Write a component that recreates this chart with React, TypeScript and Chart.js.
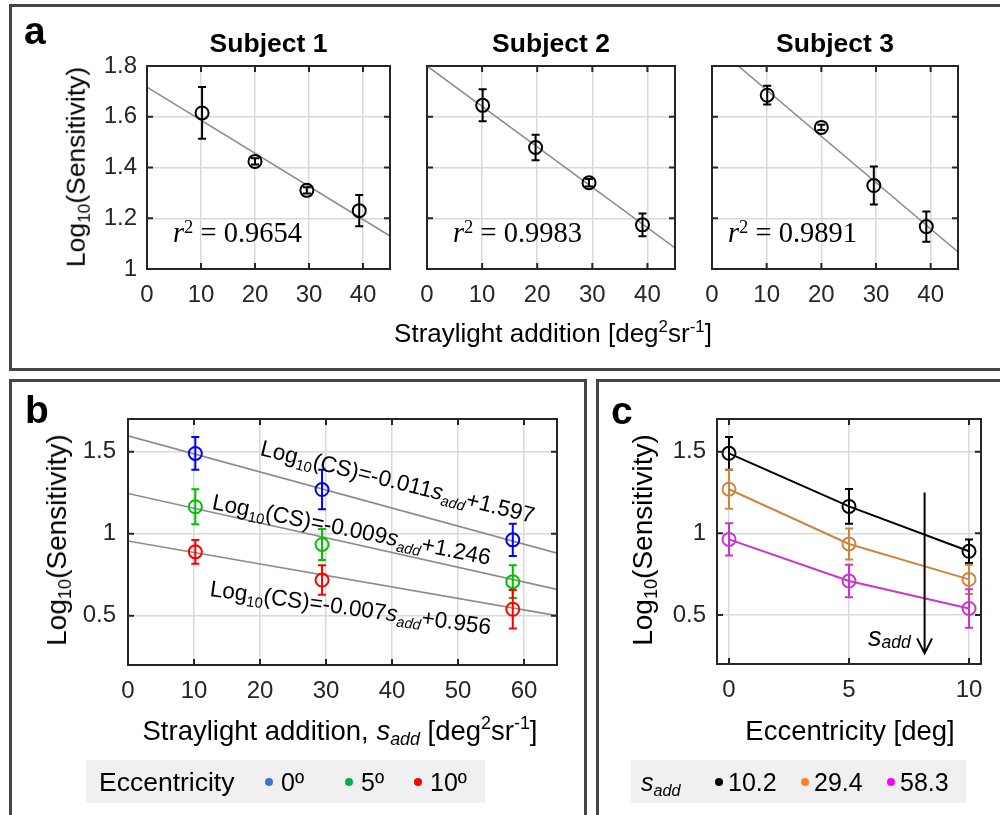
import React, { useEffect, useRef } from 'react';
import { Chart, registerables } from 'chart.js';
Chart.register(...registerables);

const SANS = "'Liberation Sans', Arial, Helvetica, sans-serif";
const SERIF = "'Liberation Serif', 'Times New Roman', serif";
const TICK_COLOR = '#262626';
const GRID_COLOR = '#d9d9d9';
const FIT_COLOR = '#8c8c8c';
const W = 1000;
const H = 815;

// ---------------- Panel a data ----------------
const aXTicks = [0, 10, 20, 30, 40];
const aXTickLabels = ['0', '10', '20', '30', '40'];
const aYTicks = [1, 1.2, 1.4, 1.6, 1.8];
const aYTickLabels = ['1', '1.2', '1.4', '1.6', '1.8'];
const subjectTitles = ['Subject 1', 'Subject 2', 'Subject 3'];

const s1Straylight = [10.2, 20.0, 29.6, 39.3];
const s1LogCS = [1.615, 1.424, 1.31, 1.23];
const s1Err = [0.102, 0.012, 0.012, 0.062];
const s1FitX = [0, 45];
const s1FitY = [1.717, 1.13];

const s2Straylight = [10.1, 19.7, 29.4, 39.1];
const s2LogCS = [1.645, 1.479, 1.34, 1.174];
const s2Err = [0.063, 0.05, 0.015, 0.045];
const s2FitX = [0, 45];
const s2FitY = [1.8, 1.083];

const s3Straylight = [10.1, 20.0, 29.6, 39.2];
const s3LogCS = [1.685, 1.558, 1.329, 1.167];
const s3Err = [0.037, 0.01, 0.075, 0.06];
const s3FitX = [4.8, 45];
const s3FitY = [1.8, 1.067];

const r2Values = ['0.9654', '0.9983', '0.9891'];

// ---------------- Panel b / c data ----------------
const sAdd = [10.2, 29.4, 58.3];
const sAddLabels = ['10.2', '29.4', '58.3'];
const eccentricity = [0, 5, 10];
const eccLabels = ['0º', '5º', '10º'];

const ecc0LogCS = [1.49, 1.27, 0.963];
const ecc0Err = [0.1, 0.12, 0.098];
const ecc5LogCS = [1.165, 0.935, 0.708];
const ecc5Err = [0.107, 0.095, 0.1];
const ecc10LogCS = [0.89, 0.718, 0.54];
const ecc10Err = [0.072, 0.09, 0.118];

const fitSlopes = [-0.011, -0.009, -0.007];
const fitIntercepts = [1.597, 1.246, 0.956];
const bFitX = [0, 65];

const bXTicks = [0, 10, 20, 30, 40, 50, 60];
const bXTickLabels = ['0', '10', '20', '30', '40', '50', '60'];
const bcYTicks = [0.5, 1, 1.5];
const bcYTickLabels = ['0.5', '1', '1.5'];
const cXTicks = [0, 5, 10];
const cXTickLabels = ['0', '5', '10'];

const eccColors = ['#0000ff', '#00c000', '#ff0000'];
const eccLegendColors = ['#4472c4', '#00b050', '#ff0000'];
const sAddColors = ['#000000', '#cd853f', '#cc33cc'];
const sAddLegendColors = ['#000000', '#ff7f27', '#ff00ff'];

// ---------------- chart helpers ----------------
const YW = 80;
const XH = 50;

const panelPlugin = {
  id: 'panelPlugin',
  afterDatasetsDraw(chart: any) {
    const ctx = chart.ctx;
    const ys = chart.scales.y;
    chart.data.datasets.forEach((ds: any, i: number) => {
      if (!ds.errorBars) return;
      const meta = chart.getDatasetMeta(i);
      ctx.save();
      ctx.strokeStyle = ds.pointBorderColor;
      ctx.lineWidth = 2;
      meta.data.forEach((pt: any, j: number) => {
        const v = ds.data[j].y;
        const e = ds.errorBars[j];
        const yt = ys.getPixelForValue(v + e);
        const yb = ys.getPixelForValue(v - e);
        const x = pt.x;
        const cw = 4;
        ctx.beginPath();
        ctx.moveTo(x, yt);
        ctx.lineTo(x, yb);
        ctx.moveTo(x - cw, yt);
        ctx.lineTo(x + cw, yt);
        ctx.moveTo(x - cw, yb);
        ctx.lineTo(x + cw, yb);
        ctx.stroke();
      });
      ctx.restore();
    });
  },
  afterDraw(chart: any) {
    const ctx = chart.ctx;
    const { left, top, right, bottom } = chart.chartArea;
    const xs = chart.scales.x;
    const ys = chart.scales.y;
    ctx.save();
    ctx.strokeStyle = '#262626';
    ctx.lineWidth = 2;
    const L = 6;
    ctx.beginPath();
    xs.ticks.forEach((t: any) => {
      const px = xs.getPixelForValue(t.value);
      if (px <= left + 1 || px >= right - 1) return;
      ctx.moveTo(px, bottom);
      ctx.lineTo(px, bottom - L);
      ctx.moveTo(px, top);
      ctx.lineTo(px, top + L);
    });
    ys.ticks.forEach((t: any) => {
      const py = ys.getPixelForValue(t.value);
      if (py <= top + 1 || py >= bottom - 1) return;
      ctx.moveTo(left, py);
      ctx.lineTo(left + L, py);
      ctx.moveTo(right, py);
      ctx.lineTo(right - L, py);
    });
    ctx.stroke();
    ctx.strokeRect(left, top, right - left, bottom - top);
    const arrow = chart.options.plugins.panelPlugin && chart.options.plugins.panelPlugin.arrow;
    if (arrow) {
      const ax = xs.getPixelForValue(arrow.x);
      const ay0 = ys.getPixelForValue(arrow.y0);
      const ay1 = ys.getPixelForValue(arrow.y1);
      ctx.strokeStyle = '#000';
      ctx.lineWidth = 2;
      ctx.beginPath();
      ctx.moveTo(ax, ay0);
      ctx.lineTo(ax, ay1);
      ctx.moveTo(ax - 7.5, ay1 - 15);
      ctx.lineTo(ax, ay1);
      ctx.lineTo(ax + 7.5, ay1 - 15);
      ctx.stroke();
    }
    ctx.restore();
  },
};

type Spec = {
  rect: { l: number; t: number; r: number; b: number };
  xMin: number; xMax: number; xTicks: number[]; xLabels: string[];
  yMin: number; yMax: number; yTicks: number[]; yLabels: string[];
  xPad: number; yPad: number;
  datasets: any[];
  arrow?: { x: number; y0: number; y1: number };
};

function makeConfig(s: Spec): any {
  const tickFont = { family: SANS, size: 24 };
  return {
    type: 'scatter',
    data: { datasets: s.datasets },
    options: {
      responsive: false,
      animation: false,
      events: [],
      layout: {
        padding: {
          left: s.rect.l - YW,
          top: s.rect.t,
          right: W - s.rect.r,
          bottom: H - s.rect.b - XH,
        },
      },
      plugins: {
        legend: { display: false },
        tooltip: { enabled: false },
        panelPlugin: { arrow: s.arrow },
      },
      scales: {
        x: {
          type: 'linear',
          min: s.xMin,
          max: s.xMax,
          afterFit: (sc: any) => { sc.height = XH; },
          afterBuildTicks: (sc: any) => { sc.ticks = s.xTicks.map((v) => ({ value: v })); },
          ticks: {
            callback: (_v: any, i: number) => s.xLabels[i],
            font: tickFont,
            color: TICK_COLOR,
            padding: s.xPad,
            maxRotation: 0,
            autoSkip: false,
          },
          grid: { color: GRID_COLOR, lineWidth: 1.5, drawTicks: false },
          border: { display: false },
        },
        y: {
          type: 'linear',
          min: s.yMin,
          max: s.yMax,
          afterFit: (sc: any) => { sc.width = YW; },
          afterBuildTicks: (sc: any) => { sc.ticks = s.yTicks.map((v) => ({ value: v })); },
          ticks: {
            callback: (_v: any, i: number) => s.yLabels[i],
            font: tickFont,
            color: TICK_COLOR,
            padding: s.yPad,
            autoSkip: false,
          },
          grid: { color: GRID_COLOR, lineWidth: 1.5, drawTicks: false },
          border: { display: false },
        },
      },
    },
    plugins: [panelPlugin],
  };
}

function pointSet(xs: number[], ys: number[], errs: number[], color: string, line = false) {
  return {
    data: xs.map((x, i) => ({ x, y: ys[i] })),
    showLine: line,
    borderColor: color,
    borderWidth: 2,
    pointBorderColor: color,
    pointBackgroundColor: 'rgba(0,0,0,0)',
    pointRadius: 6.5,
    pointBorderWidth: 2,
    errorBars: errs,
  };
}

function fitSet(xs: number[], ys: number[]) {
  return {
    data: xs.map((x, i) => ({ x, y: ys[i] })),
    showLine: true,
    borderColor: FIT_COLOR,
    borderWidth: 1.6,
    pointRadius: 0,
  };
}

const ChartCanvas = ({ spec }: { spec: Spec }) => {
  const ref = useRef<HTMLCanvasElement | null>(null);
  useEffect(() => {
    if (!ref.current) return;
    const chart = new Chart(ref.current, makeConfig(spec));
    return () => chart.destroy();
  }, []);
  return (
    <canvas
      ref={ref}
      width={W}
      height={H}
      style={{ position: 'absolute', left: 0, top: 0, width: W, height: H }}
    />
  );
};

// ---------------- text helpers ----------------
const Sub = ({ children, shift = 0.3 }: any) => (
  <span style={{ fontSize: '0.65em', position: 'relative', top: `${shift}em`, lineHeight: 0 }}>{children}</span>
);
const Sup = ({ children, shift = -0.6 }: any) => (
  <span style={{ fontSize: '0.65em', position: 'relative', top: `${shift}em`, lineHeight: 0 }}>{children}</span>
);

function Txt({ x, y, size, anchor = 'center', valign = 'cap', rot = 0, family = SANS, bold = false, italic = false, color = '#000', children }: any) {
  const tx = anchor === 'center' ? '-50%' : anchor === 'right' ? '-100%' : '0';
  const ty = valign === 'cap' ? '-0.4885em' : '-0.8465em';
  let transform = `translate(${tx}, ${ty})`;
  let origin = '50% 50%';
  if (rot === -90) {
    transform = 'translate(-50%, -50%) rotate(-90deg)';
  } else if (rot) {
    transform = `rotate(${rot}deg) translate(${tx}, ${ty})`;
    origin = '0 0';
  }
  return (
    <div
      style={{
        position: 'absolute',
        left: x,
        top: y,
        whiteSpace: 'nowrap',
        fontFamily: family,
        fontSize: size,
        fontWeight: bold ? 'bold' : 'normal',
        fontStyle: italic ? 'italic' : 'normal',
        color,
        lineHeight: 1,
        transform,
        transformOrigin: origin,
      }}
    >
      {children}
    </div>
  );
}

const LogSens = () => (
  <span>
    Log<Sub>10</Sub>(Sensitivity)
  </span>
);

const SAdd = ({ shift = 0.3 }: any) => (
  <span>
    <i>s</i>
    <Sub shift={shift}><i>add</i></Sub>
  </span>
);

const Dot = ({ x, y, color }: any) => (
  <div
    style={{
      position: 'absolute',
      left: x - 4,
      top: y - 4,
      width: 8,
      height: 8,
      borderRadius: '50%',
      background: color,
    }}
  />
);

const Frame = ({ l, t, w, h }: any) => (
  <div
    style={{
      position: 'absolute',
      left: l,
      top: t,
      width: w,
      height: h,
      border: '3px solid #454545',
      boxSizing: 'border-box',
    }}
  />
);

// ---------------- specs ----------------
const aRects = [
  { l: 147, t: 66, r: 390, b: 269 },
  { l: 427, t: 66, r: 675, b: 269 },
  { l: 712, t: 66, r: 958, b: 269 },
];

const aData = [
  { xs: s1Straylight, ys: s1LogCS, es: s1Err, fx: s1FitX, fy: s1FitY },
  { xs: s2Straylight, ys: s2LogCS, es: s2Err, fx: s2FitX, fy: s2FitY },
  { xs: s3Straylight, ys: s3LogCS, es: s3Err, fx: s3FitX, fy: s3FitY },
];

const aSpecs: Spec[] = aData.map((d, i) => ({
  rect: aRects[i],
  xMin: 0, xMax: 45, xTicks: aXTicks, xLabels: aXTickLabels,
  yMin: 1, yMax: 1.8, yTicks: aYTicks, yLabels: i === 0 ? aYTickLabels : aYTicks.map(() => ''),
  xPad: 12, yPad: 10,
  datasets: [pointSet(d.xs, d.ys, d.es, '#000000'), fitSet(d.fx, d.fy)],
}));

const eccSeries = [ecc0LogCS, ecc5LogCS, ecc10LogCS];
const eccErrs = [ecc0Err, ecc5Err, ecc10Err];

const bSpec: Spec = {
  rect: { l: 128, t: 419, r: 557, b: 665 },
  xMin: 0, xMax: 65, xTicks: bXTicks, xLabels: bXTickLabels,
  yMin: 0.2, yMax: 1.7, yTicks: bcYTicks, yLabels: bcYTickLabels,
  xPad: 12, yPad: 12,
  datasets: [
    ...eccSeries.map((ys, i) => pointSet(sAdd, ys, eccErrs[i], eccColors[i])),
    ...fitSlopes.map((m, i) => fitSet(bFitX, bFitX.map((x) => m * x + fitIntercepts[i]))),
  ],
};

const cSpec: Spec = {
  rect: { l: 717, t: 419, r: 981, b: 664 },
  xMin: -0.5, xMax: 10.5, xTicks: cXTicks, xLabels: cXTickLabels,
  yMin: 0.2, yMax: 1.7, yTicks: bcYTicks, yLabels: bcYTickLabels,
  xPad: 12, yPad: 11,
  datasets: sAdd.map((_s, k) =>
    pointSet(
      eccentricity,
      eccSeries.map((ser) => ser[k]),
      eccErrs.map((er) => er[k]),
      sAddColors[k],
      true
    )
  ),
  arrow: { x: 8.15, y0: 1.25, y1: 0.265 },
};

// equation label placement (left-baseline point and angle)
const eqPlacement = [
  { x: 259, y: 456, rot: 14 },
  { x: 211, y: 510, rot: 11.4 },
  { x: 209, y: 597, rot: 7.8 },
];

export default function App() {
  const aTitleX = aRects.map((r) => (r.l + r.r) / 2);
  const r2X = [173, 453, 728];
  return (
    <div
      style={{
        position: 'absolute',
        left: 0,
        top: 0,
        width: W,
        height: H,
        background: '#ffffff',
        overflow: 'hidden',
        fontFamily: SANS,
      }}
    >
      {/* panel frames */}
      <Frame l={9} t={4} w={1010} h={367} />
      <Frame l={9} t={379} w={578} h={460} />
      <Frame l={596} t={379} w={420} h={460} />

      {/* legends background */}
      <div style={{ position: 'absolute', left: 86, top: 760, width: 399, height: 43, background: '#f0f0f0' }} />
      <div style={{ position: 'absolute', left: 631, top: 760, width: 335, height: 43, background: '#f0f0f0' }} />

      {aSpecs.map((s, i) => (
        <ChartCanvas key={i} spec={s} />
      ))}
      <ChartCanvas spec={bSpec} />
      <ChartCanvas spec={cSpec} />

      {/* panel letters */}
      <Txt x={24} y={44} size={39} bold anchor="left" valign="base">a</Txt>
      <Txt x={25} y={423} size={39} bold anchor="left" valign="base">b</Txt>
      <Txt x={611} y={424} size={39} bold anchor="left" valign="base">c</Txt>

      {/* panel a texts */}
      {subjectTitles.map((t, i) => (
        <Txt key={t} x={aTitleX[i]} y={43} size={26.5} bold>{t}</Txt>
      ))}
      <Txt x={76} y={167} size={26.5} rot={-90}><LogSens /></Txt>
      <Txt x={553} y={333} size={26}>
        Straylight addition [deg<Sup>2</Sup>sr<Sup>-1</Sup>]
      </Txt>
      {r2Values.map((v, i) => (
        <Txt key={v} x={r2X[i]} y={243} size={28.5} family={SERIF} anchor="left" valign="base">
          <i>r</i><Sup shift={-0.5}>2</Sup>&nbsp;= {v}
        </Txt>
      ))}

      {/* panel b texts */}
      <Txt x={57} y={540} size={28} rot={-90}><LogSens /></Txt>
      <Txt x={340} y={730} size={27.5}>
        Straylight addition, <SAdd /> [deg<Sup>2</Sup>sr<Sup>-1</Sup>]
      </Txt>
      {fitSlopes.map((m, i) => (
        <Txt key={i} x={eqPlacement[i].x} y={eqPlacement[i].y} rot={eqPlacement[i].rot} size={22.6} anchor="left" valign="base">
          Log<Sub shift={0.35}>10</Sub>(CS)={String(m)}<SAdd shift={0.35} />+{String(fitIntercepts[i])}
        </Txt>
      ))}

      {/* panel c texts */}
      <Txt x={643} y={540} size={28} rot={-90}><LogSens /></Txt>
      <Txt x={850} y={730} size={27.5}>Eccentricity [deg]</Txt>
      <Txt x={868} y={647} size={27} anchor="left" valign="base"><SAdd shift={0.12} /></Txt>

      {/* legend b */}
      <Txt x={99} y={782} size={26.5} anchor="left">Eccentricity</Txt>
      {eccLabels.map((lab, i) => {
        const dx = [269, 349, 418][i];
        return (
          <React.Fragment key={lab}>
            <Dot x={dx} y={782} color={eccLegendColors[i]} />
            <Txt x={dx + 12} y={782} size={25} anchor="left">{lab}</Txt>
          </React.Fragment>
        );
      })}

      {/* legend c */}
      <Txt x={641} y={782} size={25} anchor="left"><SAdd /></Txt>
      {sAddLabels.map((lab, i) => {
        const dx = [719, 805, 891][i];
        return (
          <React.Fragment key={lab}>
            <Dot x={dx} y={782} color={sAddLegendColors[i]} />
            <Txt x={dx + 9} y={782} size={25} anchor="left">{lab}</Txt>
          </React.Fragment>
        );
      })}
    </div>
  );
}
